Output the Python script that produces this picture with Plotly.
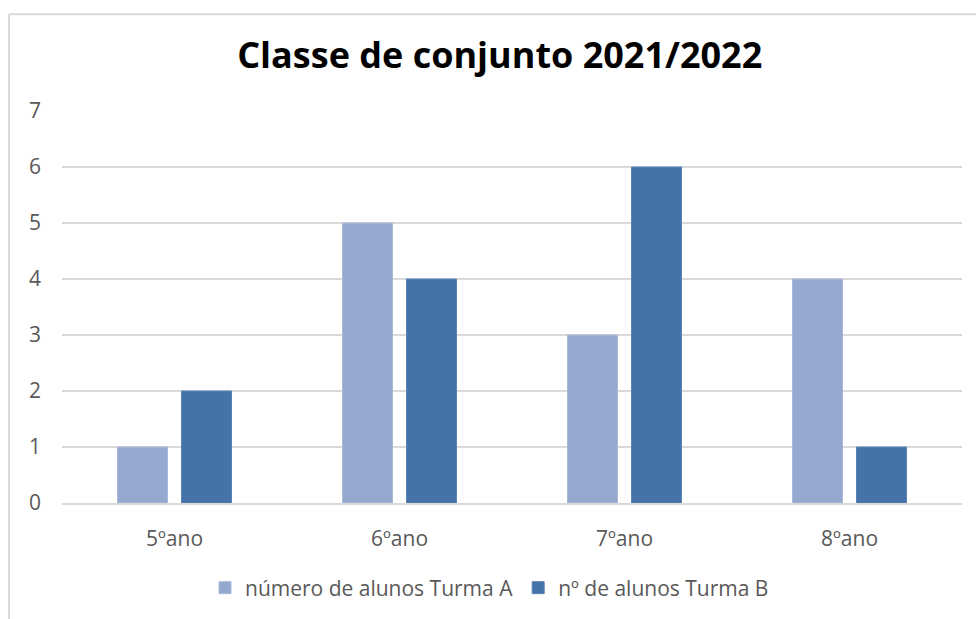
import plotly.graph_objects as go

categories = ["5ºano", "6ºano", "7ºano", "8ºano"]
turma_a = [1, 5, 3, 4]
turma_b = [2, 4, 6, 1]
name_a = "número de alunos Turma A"
name_b = "nº de alunos Turma B"
y_ticks = [0, 1, 2, 3, 4, 5, 6, 7]

FONT = "Open Sans"
GREY = "#595959"
TS = 21

fig = go.Figure()
fig.add_trace(go.Bar(x=categories, y=turma_a, name=name_a,
                     marker=dict(color="#95A9D0", line=dict(color="#A9B9DA", width=1))))
fig.add_trace(go.Bar(x=categories, y=turma_b, name=name_b,
                     marker=dict(color="#4572A8", line=dict(color="#5A82B3", width=1))))

W, H = 976, 619
L, R, T, B = 62, 14, 111, 115
pw = W - L - R
ph = H - T - B

fig.update_layout(
    width=W, height=H,
    margin=dict(l=L, r=R, t=T, b=B),
    paper_bgcolor="white", plot_bgcolor="white",
    barmode="group", bargap=0.431, bargroupgap=0.219,
    title=dict(text="<b>Classe de conjunto 2021/2022</b>", x=0.512, xanchor="center",
               y=1 - 55 / H, yanchor="middle",
               font=dict(family=FONT, size=36, color="#000000")),
    font=dict(family=FONT, color=GREY, size=TS),
    showlegend=True,
    legend=dict(orientation="h", x=0.475, xanchor="center", y=-84 / ph, yanchor="middle",
                font=dict(family=FONT, size=TS, color=GREY), itemwidth=30,
                traceorder="normal"),
    xaxis=dict(showgrid=False, showline=True, linecolor="#D9D9D9", linewidth=1.5,
               ticks="", tickfont=dict(size=TS, color=GREY), ticklabelstandoff=16),
    yaxis=dict(range=[0, 7], tickvals=y_ticks, showgrid=True, gridcolor="#D9D9D9",
               gridwidth=1.5, zeroline=False, showline=False, ticks="",
               tickfont=dict(size=TS, color=GREY), ticklabelstandoff=20),
    shapes=[
        dict(type="line", xref="paper", yref="paper", x0=(9 - L) / pw, x1=(9 - L) / pw,
             y0=-0.5, y1=(H - B - 14) / ph, line=dict(color="#D9D9D9", width=2)),
        dict(type="line", xref="paper", yref="paper", x0=(9 - L) / pw, x1=(980 - L) / pw,
             y0=(H - B - 14) / ph, y1=(H - B - 14) / ph, line=dict(color="#D9D9D9", width=2)),
    ],
)

fig.write_html("out.html", config={"displayModeBar": False},
               post_script="document.body.style.margin='0';")
